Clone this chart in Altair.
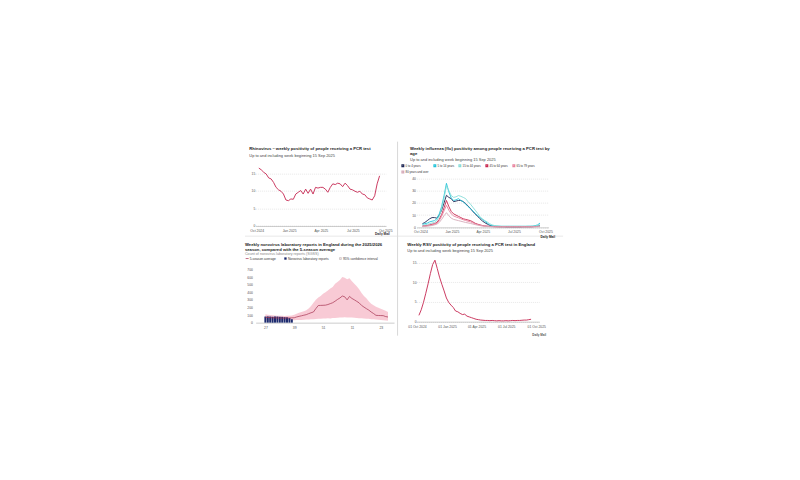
import altair as alt
import pandas as pd

FONT = "Liberation Sans"
TITLE_C = "#1a1a1a"
SUB_C = "#444444"

# ---------------- Panel 1: Rhinovirus ----------------
rhino_title = "Rhinovirus – weekly positivity of people receiving a PCR test"
rhino_subtitle = "Up to and including week beginning 15 Sep 2025"
rhino_dates = pd.date_range("2024-10-07", periods=50, freq="7D")
rhino_values = [16.5, 16.0, 15.3, 14.8, 13.7, 13.4, 12.4, 11.0, 10.3, 9.9,
                9.1, 7.4, 7.2, 7.7, 7.6, 9.1, 9.6, 10.1, 9.1, 10.5,
                9.3, 10.5, 9.1, 11.0, 10.8, 11.0, 11.0, 10.5, 9.6, 11.0,
                12.0, 11.8, 12.2, 12.0, 11.2, 12.2, 11.5, 10.5, 10.3, 9.9,
                9.6, 9.9, 9.1, 8.9, 8.0, 7.7, 7.4, 8.6, 12.0, 14.3]
rhino_yticks = [0, 5, 10, 15]

# ---------------- Panel 2: Influenza by age ----------------
flu_title_1 = "Weekly influenza (flu) positivity among people receiving a PCR test by"
flu_title_2 = "age"
flu_subtitle = "Up to and including week beginning 15 Sep 2025"
flu_dates = pd.date_range("2024-10-07", periods=50, freq="7D")
flu_groups = ["0 to 4 years", "5 to 14 years", "15 to 44 years",
              "45 to 64 years", "65 to 79 years", "80 years and over"]
flu_colors = ["#1d2553", "#22c3d9", "#86dcd8", "#c8284f", "#e9839f", "#d6aab9"]
flu_0_4 = [3, 4, 5.5, 7, 8, 8, 7.5, 10, 14, 20,
           26.2, 24.5, 23.5, 21, 21.5, 22, 22, 21, 19.5, 17.5,
           15.5, 13, 11, 9, 7, 5.2, 3.8, 2.7, 1.7, 1.0,
           0.7, 0.6, 0.5, 0.5, 0.5, 0.4, 0.4, 0.4, 0.4, 0.4,
           0.4, 0.4, 0.5, 0.5, 0.5, 0.5, 0.6, 0.8, 1.0, 1.2]
flu_5_14 = [2.5, 3, 3.5, 4.5, 5, 5.5, 7, 11, 17, 26,
            36, 29, 24, 22, 22.5, 23.5, 22, 21, 19, 17,
            15.3, 13.5, 11.5, 9.5, 8, 6.5, 5, 3.5, 2, 1.4,
            1.1, 1.0, 0.9, 0.8, 0.8, 0.8, 0.8, 0.8, 0.8, 0.8,
            0.8, 0.8, 0.8, 0.8, 0.9, 0.9, 1.0, 1.4, 2.0, 3.5]
flu_15_44 = [1.5, 2, 2.5, 3, 3.5, 4, 5.5, 9, 15, 24,
             34, 30, 26, 24.5, 25, 26, 25.4, 24.5, 23.5, 21,
             19, 16.5, 14, 11.5, 8.5, 7, 5.5, 4.4, 3, 2,
             1.5, 1.2, 1.0, 0.9, 0.9, 0.9, 0.9, 0.9, 0.9, 0.9,
             0.9, 0.9, 0.9, 0.9, 0.9, 0.9, 1.0, 1.2, 1.6, 2.2]
flu_45_64 = [1, 1.2, 1.5, 2, 2.5, 3, 4, 6.5, 10.5, 16,
             22, 17, 13, 11, 10, 9, 8, 7, 6.5, 6,
             5.5, 4.5, 3.3, 2.6, 2, 1.5, 1.2, 1, 0.8, 0.7,
             0.6, 0.6, 0.6, 0.6, 0.6, 0.6, 0.6, 0.6, 0.6, 0.6,
             0.6, 0.6, 0.6, 0.6, 0.6, 0.6, 0.6, 0.7, 0.7, 0.8]
flu_65_79 = [0.8, 1, 1.2, 1.5, 2, 2.5, 3.3, 5.5, 9, 13.5,
             18, 14, 11, 9.3, 8.5, 7.8, 7, 6.2, 5.6, 5,
             4.5, 3.7, 2.8, 2.2, 1.7, 1.3, 1, 0.8, 0.7, 0.6,
             0.5, 0.5, 0.5, 0.5, 0.5, 0.5, 0.5, 0.5, 0.5, 0.5,
             0.5, 0.5, 0.5, 0.5, 0.5, 0.5, 0.5, 0.5, 0.6, 0.6]
flu_80_plus = [0.6, 0.8, 1, 1.2, 1.5, 2, 2.6, 4, 6.5, 9.5,
               12, 9.5, 7.5, 6.5, 6, 5.5, 5, 4.5, 4, 3.6,
               3.2, 2.7, 2.2, 1.8, 1.4, 1.1, 0.9, 0.7, 0.6, 0.5,
               0.4, 0.4, 0.4, 0.4, 0.4, 0.4, 0.4, 0.4, 0.4, 0.4,
               0.4, 0.4, 0.4, 0.4, 0.4, 0.4, 0.5, 0.5, 0.6, 0.7]
flu_yticks = [0, 10, 20, 30, 40]

# ---------------- Panel 3: Norovirus ----------------
noro_title_1 = "Weekly norovirus laboratory reports in England during the 2025/2026"
noro_title_2 = "season, compared with the 5-season average"
noro_subtitle = "Count of norovirus laboratory reports (SGSS)"
noro_legend = ["5-season average", "Norovirus laboratory reports", "95% confidence interval"]
noro_weeks = [str(w) for w in list(range(27, 53)) + list(range(1, 27))]
noro_avg = [70, 68, 66, 64, 63, 62, 61, 61, 60, 61,
            62, 63, 64, 75, 83, 90, 98, 105, 118, 130,
            140, 185, 225, 227, 228, 230, 238, 250, 262, 282,
            305, 324, 350, 340, 300, 345, 318, 300, 280, 260,
            227, 205, 184, 165, 140, 120, 96, 94, 93, 92,
            80, 74]
noro_hi = [110, 105, 100, 98, 95, 92, 90, 90, 88, 90,
           92, 95, 105, 118, 130, 140, 150, 162, 185, 220,
           260, 300, 330, 350, 380, 400, 424, 450, 470, 510,
           534, 560, 600, 590, 570, 585, 545, 512, 480, 440,
           390, 350, 320, 280, 250, 230, 210, 195, 184, 170,
           155, 140]
noro_lo = [32, 30, 31, 29, 30, 28, 30, 29, 31, 30,
           29, 31, 33, 34, 36, 35, 38, 41, 40, 44,
           46, 47, 51, 50, 54, 55, 57, 56, 60, 62,
           63, 67, 66, 70, 69, 67, 66, 63, 62, 59,
           58, 54, 52, 50, 46, 44, 40, 37, 35, 31,
           28, 25]
noro_reports = [80, 82, 80, 79, 81, 80, 77, 76, 72, 70, 60, 45]
noro_yticks = [0, 100, 200, 300, 400, 500, 600, 700]
noro_xticks = [0, 12, 24, 36, 48]

# ---------------- Panel 4: RSV ----------------
rsv_title = "Weekly RSV positivity of people receiving a PCR test in England"
rsv_subtitle = "Up to and including week beginning 15 Sep 2025"
rsv_dates = pd.date_range("2024-10-07", periods=50, freq="7D")
rsv_values = [1.6, 3.0, 4.9, 7.2, 9.6, 12.2, 14.5, 15.6, 13.5, 11.3,
              9.5, 7.8, 6.0, 4.9, 4.2, 3.6, 2.7, 2.5, 2.1, 1.8,
              1.9, 1.4, 1.2, 1.0, 0.8, 0.6, 0.5, 0.4, 0.35, 0.3,
              0.3, 0.25, 0.3, 0.25, 0.2, 0.25, 0.2, 0.2, 0.25, 0.2,
              0.25, 0.3, 0.25, 0.3, 0.3, 0.35, 0.4, 0.4, 0.5, 0.6]
rsv_yticks = [0, 5, 10, 15]

logo_text = "Daily Mail"

TITLE_SIZE = 4.2
SUB_SIZE = 3.95


def T(y, m, d):
    return alt.DateTime(year=y, month=m, date=d)


quarter_ticks = [T(2024, 10, 1), T(2025, 1, 1), T(2025, 4, 1), T(2025, 7, 1), T(2025, 10, 1)]


def text_layer(s, x, y, size, weight="normal", color=SUB_C, align="left"):
    return alt.Chart(alt.Data(values=[{"t": s}])).mark_text(
        align=align, baseline="middle", font=FONT, fontSize=size,
        fontWeight=weight, color=color
    ).encode(text="t:N", x=alt.value(x), y=alt.value(y))


def rule_layer(x, x2, y, y2, color, width):
    return alt.Chart(alt.Data(values=[{"k": 1}])).mark_rule(
        color=color, strokeWidth=width
    ).encode(x=alt.value(x), x2=alt.value(x2), y=alt.value(y), y2=alt.value(y2))


def square_layer(x, y, size, fill, stroke):
    return alt.Chart(alt.Data(values=[{"k": 1}])).mark_square(
        size=size, fill=fill, stroke=stroke, strokeWidth=0.4, opacity=1
    ).encode(x=alt.value(x), y=alt.value(y))


GRID = dict(grid=True, gridColor="#cfcfcf", gridDash=[1, 1], gridWidth=0.5, domain=False,
            title=None, labelOverlap=False)
XAX = dict(grid=False, domain=True, domainColor="#9a9a9a", domainWidth=0.5, title=None,
           labelFlush=False, labelOverlap=False)

# ---------- panel 1 ----------
W1, H1 = 130.3, 61.3
rhino_df = pd.DataFrame({"date": rhino_dates, "value": rhino_values})
p1_line = alt.Chart(rhino_df).mark_line(color="#c8325a", strokeWidth=0.95).encode(
    x=alt.X("date:T", scale=alt.Scale(domain=[T(2024, 9, 28), T(2025, 10, 3)]),
            axis=alt.Axis(values=quarter_ticks, format="%b %Y", labelPadding=2.3, **XAX)),
    y=alt.Y("value:Q", scale=alt.Scale(domain=[0, 17.48], nice=False, zero=True),
            axis=alt.Axis(values=rhino_yticks, labelPadding=0.8, **GRID)),
)
p1 = alt.layer(
    p1_line,
    text_layer(rhino_title, -6.3, -16, TITLE_SIZE, "bold", TITLE_C),
    text_layer(rhino_subtitle, -6.3, -9, SUB_SIZE, "normal", SUB_C),
    text_layer(logo_text, 119.4, 69.5, 3.2, "bold", "#222"),
    rule_layer(141.9, 141.9, -23, 171, "#c8c8c8", 0.7),
    rule_layer(-10.6, 307.4, 71.5, 71.5, "#dcdcdc", 0.7),
).properties(width=W1, height=H1)

# ---------- panel 2 ----------
W2, H2 = 131.9, 62.7
flu_series = [flu_0_4, flu_5_14, flu_15_44, flu_45_64, flu_65_79, flu_80_plus]
flu_df = pd.concat([
    pd.DataFrame({"date": flu_dates, "value": vals, "age": grp, "order": k})
    for k, (grp, vals) in enumerate(zip(flu_groups, flu_series))
])
p2_lines = alt.Chart(flu_df).mark_line(strokeWidth=0.9).encode(
    x=alt.X("date:T", scale=alt.Scale(domain=[T(2024, 9, 20), T(2025, 10, 10)]),
            axis=alt.Axis(values=quarter_ticks, format="%b %Y", labelPadding=2.3, **XAX)),
    y=alt.Y("value:Q", scale=alt.Scale(domain=[0, 51.3], nice=False, zero=True),
            axis=alt.Axis(values=flu_yticks, labelPadding=1.2, **GRID)),
    color=alt.Color("age:N", scale=alt.Scale(domain=flu_groups, range=flu_colors),
                    legend=alt.Legend(orient="none", legendX=145.7, legendY=-0.6,
                                      direction="horizontal", columns=5, title=None,
                                      symbolType="square", symbolSize=3, symbolStrokeWidth=1.2,
                                      labelFontSize=2.9, labelFont=FONT, labelColor="#333",
                                      labelOffset=1.2, columnPadding=2.0, rowPadding=-0.6,
                                      padding=0, labelLimit=80)),
    detail="order:N",
)
p2 = alt.layer(
    p2_lines,
    text_layer(flu_title_1, -6.6, -15.7, TITLE_SIZE, "bold", TITLE_C),
    text_layer(flu_title_2, -6.6, -10.7, TITLE_SIZE, "bold", TITLE_C),
    text_layer(flu_subtitle, -6.6, -4.9, SUB_SIZE, "normal", SUB_C),
    text_layer(logo_text, 123.8, 72.5, 3.2, "bold", "#222"),
).properties(width=W2, height=H2)

# ---------- panel 3 ----------
W3, H3 = 138.4, 64.7
noro_df = pd.DataFrame({"idx": list(range(len(noro_weeks))), "week": noro_weeks,
                        "avg": noro_avg, "lo": noro_lo, "hi": noro_hi})
bars_df = pd.DataFrame({"idx": list(range(len(noro_reports))), "reports": noro_reports})
label_expr = "[" + ",".join("'" + w + "'" for w in noro_weeks) + "][datum.value]"
x3_scale = alt.Scale(domain=[-1.97, 51.44], nice=False, zero=False)
y3_scale = alt.Scale(domain=[0, 851], nice=False, zero=True)
x3_axis = alt.Axis(values=noro_xticks, labelExpr=label_expr, labelPadding=2.6, **XAX)
y3_axis = alt.Axis(values=noro_yticks, grid=False, domain=False, title=None,
                   labelPadding=3.2, labelOverlap=False)
p3_band = alt.Chart(noro_df).mark_area(color="#f7c4d0", opacity=0.9).encode(
    x=alt.X("idx:Q", scale=x3_scale, axis=x3_axis),
    y=alt.Y("lo:Q", scale=y3_scale, axis=y3_axis),
    y2="hi:Q",
)
p3_bars = alt.Chart(bars_df).mark_bar(color="#1c2b6e", width=2.0).encode(
    x=alt.X("idx:Q", scale=x3_scale, axis=x3_axis),
    y=alt.Y("reports:Q", scale=y3_scale, axis=y3_axis))
p3_line = alt.Chart(noro_df).mark_line(color="#a5304f", strokeWidth=0.7).encode(
    x=alt.X("idx:Q", scale=x3_scale, axis=x3_axis),
    y=alt.Y("avg:Q", scale=y3_scale, axis=y3_axis))
LEG = 3.3
p3 = alt.layer(
    p3_band, p3_bars, p3_line,
    text_layer(noro_title_1, -10.7, -13.3, TITLE_SIZE, "bold", TITLE_C),
    text_layer(noro_title_2, -10.7, -8.3, TITLE_SIZE, "bold", TITLE_C),
    text_layer(noro_subtitle, -10.7, -3.9, 3.7, "normal", "#888"),
    rule_layer(-10, -7, 0.6, 0.6, "#a5304f", 0.7),
    text_layer(noro_legend[0], -6, 0.6, LEG, "normal", "#333"),
    square_layer(29.8, 0.6, 3.5, "#1c2b6e", "#1c2b6e"),
    text_layer(noro_legend[1], 32.3, 0.6, LEG, "normal", "#333"),
    square_layer(84.8, 0.6, 3.5, "#fbe3e9", "#999"),
    text_layer(noro_legend[2], 87.3, 0.6, LEG, "normal", "#333"),
).properties(width=W3, height=H3)

# ---------- panel 4 ----------
W4, H4 = 122.6, 63.7
rsv_df = pd.DataFrame({"date": rsv_dates, "value": rsv_values})
p4_line = alt.Chart(rsv_df).mark_line(color="#c8325a", strokeWidth=0.95).encode(
    x=alt.X("date:T", scale=alt.Scale(domain=[T(2024, 9, 30), T(2025, 10, 10)]),
            axis=alt.Axis(values=quarter_ticks, format="%d %b %Y", labelPadding=3.0, **XAX)),
    y=alt.Y("value:Q", scale=alt.Scale(domain=[0, 16.17], nice=False, zero=True),
            axis=alt.Axis(values=rsv_yticks, labelPadding=0.6, **GRID)),
)
p4 = alt.layer(
    p4_line,
    text_layer(rsv_title, -9.3, -12.7, TITLE_SIZE, "bold", TITLE_C),
    text_layer(rsv_subtitle, -9.3, -7.0, SUB_SIZE, "normal", SUB_C),
    text_layer(logo_text, 115.7, 77.5, 3.0, "bold", "#555"),
).properties(width=W4, height=H4)

chart = alt.concat(
    p1, p2, p3, p4, columns=2,
    spacing={"row": 30.3, "column": 22.0},
    bounds="flush", align="none",
).properties(
    padding={"left": 236.65, "top": 132.65, "right": 4, "bottom": 4},
    background="white",
).configure_view(stroke=None).configure_axis(
    labelFont=FONT, labelFontSize=3.4, labelColor="#555555", ticks=False, labelOverlap=False
)

chart.save("out.html", embed_options={"renderer": "svg", "actions": False})
